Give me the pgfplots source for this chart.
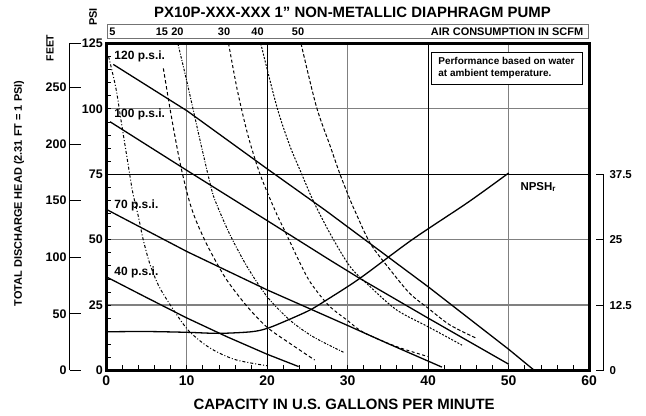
\documentclass[border=0pt]{standalone}
\usepackage{fontspec}
\setmainfont{Liberation Sans}
\usepackage{pgfplots}
\pgfplotsset{compat=1.18}
\begin{document}
\begin{tikzpicture}[font=\bfseries]
\useasboundingbox (-106.2bp,-45.5bp) rectangle (539.8bp,370.5bp);
% ---------------- main axis (PSI) ----------------
\begin{axis}[
  at={(0,0)}, anchor=south west,
  scale only axis, width=483bp, height=327bp,
  xmin=0, xmax=60, ymin=0, ymax=125,
  xtick={0,10,...,60}, ytick={0,25,...,125},
  minor x tick num=4, minor y tick num=4,
  tick pos=left, tick align=inside,
  major tick length=5bp, minor tick length=5bp,
  tick style={black, line width=0.8bp},
  grid=major, major grid style={black!50, line width=1.2bp},
  extra x ticks={20,40}, extra y ticks={75},
  extra x tick labels={}, extra y tick labels={},
  extra tick style={grid=major, major grid style={black, line width=1.1bp}, major tick length=0pt},
  axis line style={line width=3bp},
  /pgf/number format/assume math mode=true,
  xticklabel style={font=\fontsize{14}{14}\selectfont\bfseries, yshift=-2bp},
  yticklabel style={font=\fontsize{12.5}{12.5}\selectfont\bfseries},
]
% head curves
\addplot[black, line width=1.3bp] coordinates {(0.88,117) (10.07,99.2) (19.9,77.3) (27.2,61.3) (40,32) (50,8.1) (53.2,0)};
\addplot[black, line width=1.3bp] coordinates {(0.47,95.1) (10.07,76.4) (20,57.3) (27.8,42.2) (31.5,35.2) (40,20) (50,2.4)};
\addplot[black, line width=1.3bp] coordinates {(0.14,61.4) (10.07,45.4) (20,30.8) (25,24) (30,17.2) (35,10.3) (41.7,1.3)};
\addplot[black, line width=1.3bp] coordinates {(0.14,35.6) (5,27.9) (10,20.1) (15,12.9) (20,6.2) (23.9,1.5)};
% air consumption curves
\addplot[black, line width=1bp, smooth, dash pattern=on 3bp off 2bp on 1bp off 2bp] coordinates {(0.3,120) (1.2,108) (1.9,94.5) (2.7,79.2) (3.3,68) (4.0,58.8) (4.6,50) (5.4,41) (6.5,32.5) (8.1,24.4) (10.07,15.8) (12,10.5) (13.7,7.2) (16.2,4) (20,1.8)};
\addplot[black, line width=1bp, smooth, dash pattern=on 3.5bp off 2.5bp] coordinates {(7.1,115.5) (8.1,97) (9.2,79) (10.3,65) (11.2,57) (12.3,49.5) (13.3,43.5) (15,34.5) (17.5,24.5) (20,16.5) (22.8,10.4) (25.9,4)};
\addplot[black, line width=1bp, smooth, dash pattern=on 2.5bp off 1.5bp on 1bp off 1.5bp] coordinates {(8.9,125) (10.07,109.8) (11.65,88.1) (12.9,71.6) (13.5,65.2) (15.3,52.4) (17.5,39.7) (20,28.2) (22.8,19.3) (25.7,12.9) (29.6,6.8)};
\addplot[black, line width=1bp, smooth, dash pattern=on 3bp off 2.5bp] coordinates {(15.2,125) (16.3,107) (17.6,90) (19,76) (20.3,66) (21.3,59) (22.4,52) (23.7,43.5) (25.3,34) (27.6,25) (29.9,19.3) (32,14.5) (36.1,9.1) (40,5.3)};
\addplot[black, line width=1bp, smooth, dash pattern=on 2bp off 1.5bp] coordinates {(19.2,125) (21.2,100.8) (22.8,86) (24.3,75) (25.7,65) (27.8,52.4) (30.3,39.7) (32.8,32) (36.1,23.1) (40,16.7) (44.2,9.7)};
\addplot[black, line width=1bp, smooth, dash pattern=on 3.5bp off 2bp] coordinates {(24.2,125) (26.1,101) (27.8,86) (29,75.4) (30.2,66) (30.9,61) (32.8,48.6) (35.3,38.4) (37.7,29.5) (40,23.8) (42.7,17.4) (46,12.3)};
\end{axis}
% ---------------- feet axis ----------------
\begin{axis}[
  at={(-36.2bp,0)}, anchor=south west,
  scale only axis, width=10bp, height=327bp,
  xmin=0, xmax=1, ymin=0, ymax=288.75,
  hide x axis, axis y line*=left,
  ytick={0,50,...,250}, extra y ticks={288.75}, extra y tick labels={},
  tick align=inside, major tick length=11bp,
  tick style={black, line width=1bp},
  axis line style={line width=1bp},
  /pgf/number format/assume math mode=true,
  yticklabel style={font=\fontsize{12.5}{12.5}\selectfont\bfseries},
]
\end{axis}
% ---------------- NPSH axis (feet) ----------------
\begin{axis}[
  at={(13.8bp,0)}, anchor=south west,
  scale only axis, width=483bp, height=196.2bp,
  xmin=1.7143, xmax=61.7143, ymin=0, ymax=37.5,
  hide x axis, axis y line*=right, clip=false,
  ytick={0,12.5,25,37.5},
  tick align=inside, major tick length=7bp,
  tick style={black, line width=1bp},
  axis line style={line width=1bp},
  /pgf/number format/assume math mode=true,
  yticklabel style={font=\fontsize{11.5}{11.5}\selectfont\bfseries, xshift=3bp},
]
\addplot[black, line width=1.3bp, smooth] coordinates {(0,7.4) (5,7.45) (10,7.3) (14,7.1) (18,7.4) (20,8.05) (22.5,9.6) (25.3,11.55) (27.4,13.5) (31.5,17.6) (38,25) (45,32.2) (50,37.75)};
\end{axis}
% ---------------- texts ----------------
\node[font=\fontsize{15}{15}\selectfont\bfseries] at (246.3bp,358bp) {PX10P-XXX-XXX 1" NON-METALLIC DIAPHRAGM PUMP};
\draw[black!55, line width=1bp] (1bp,332.2bp) rectangle (482bp,346.2bp);
\node[anchor=east, font=\fontsize{11}{11}\selectfont\bfseries] at (480.5bp,339.2bp) {AIR CONSUMPTION IN SCFM};
\begin{scope}[every node/.style={font=\fontsize{11}{11}\selectfont\bfseries}]
\node at (6.3bp,339.2bp) {5};
\node at (55.8bp,339.2bp) {15};
\node at (71.3bp,339.2bp) {20};
\node at (117.8bp,339.2bp) {30};
\node at (151.3bp,339.2bp) {40};
\node at (191.8bp,339.2bp) {50};
\end{scope}
\node[rotate=90, font=\fontsize{11}{11}\selectfont\bfseries] at (-87.2bp,177bp) {TOTAL DISCHARGE HEAD (2.31 FT = 1 PSI)};
\node[rotate=90, font=\fontsize{10.5}{10.5}\selectfont\bfseries] at (-56.2bp,322.5bp) {FEET};
\node[rotate=90, font=\fontsize{11}{11}\selectfont\bfseries] at (-13.2bp,353.5bp) {PSI};
\node[font=\fontsize{15}{15}\selectfont\bfseries] at (237.9bp,-33.5bp) {CAPACITY IN U.S. GALLONS PER MINUTE};
\node[draw, line width=0.8bp, align=left, fill=white, font=\fontsize{10}{12}\selectfont\bfseries, minimum width=151bp, minimum height=31.3bp, inner sep=3bp] at (400.3bp,302.2bp) {Performance based on water\\at ambient temperature.};
\node[anchor=west, font=\fontsize{11.5}{11.5}\selectfont\bfseries] at (410.8bp,183.5bp) {NPSH\textsubscript{r}};
\begin{scope}[every node/.style={anchor=west, font=\fontsize{12}{12}\selectfont\bfseries, inner sep=1bp}]
\node at (7.1bp,314.5bp) {120 p.s.i.};
\node at (7.1bp,256.5bp) {100 p.s.i.};
\node at (7.1bp,165bp) {70 p.s.i.};
\node at (7.1bp,98bp) {40 p.s.i.};
\end{scope}
\end{tikzpicture}
\end{document}
